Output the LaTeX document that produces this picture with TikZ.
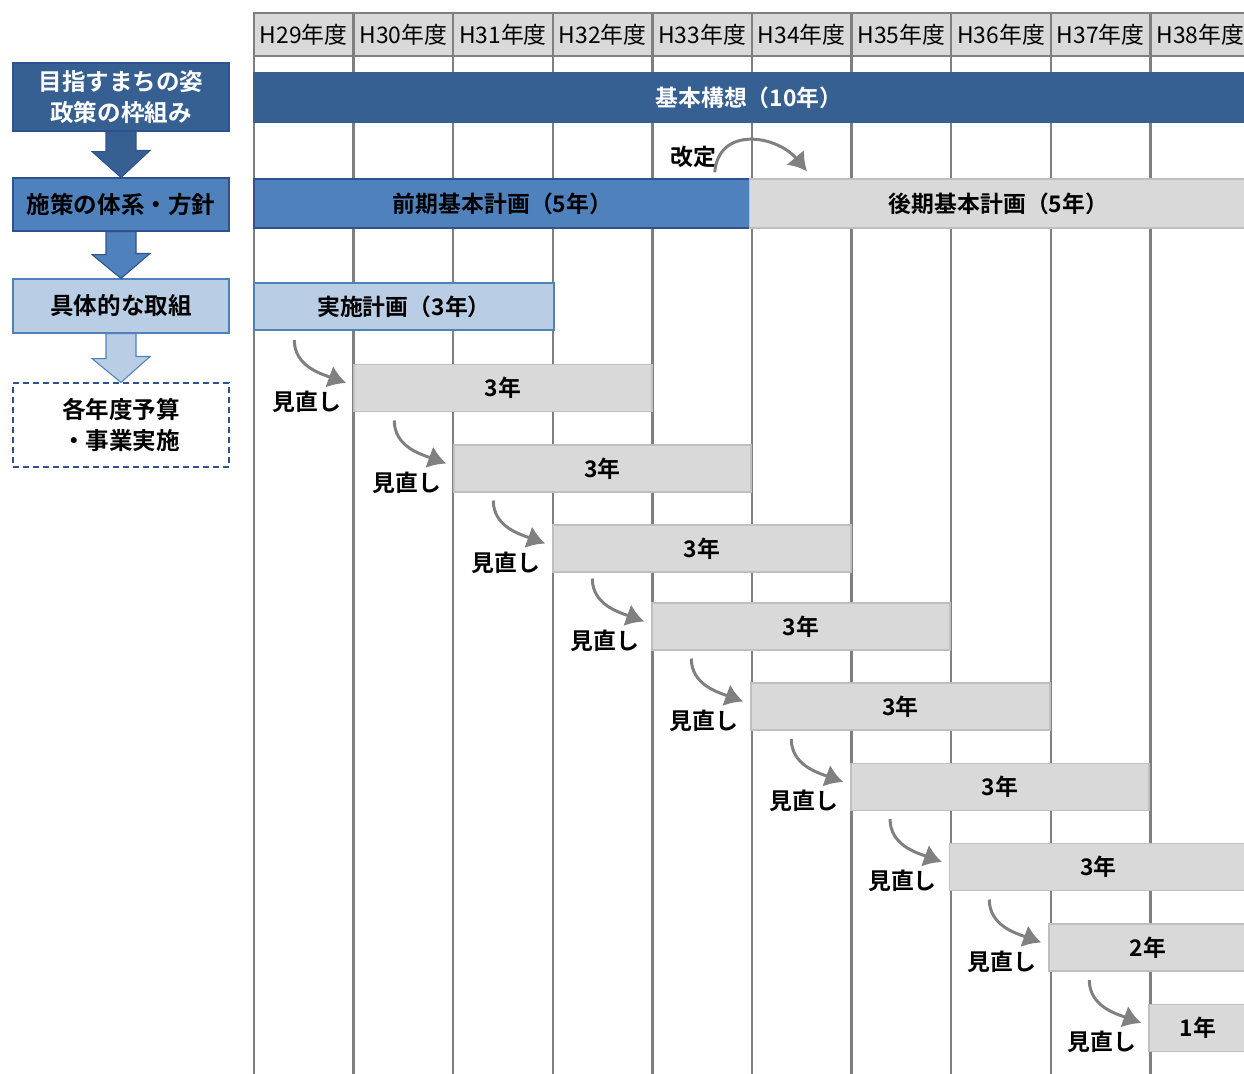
\documentclass[tikz,border=0pt]{standalone}
\usepackage{fontspec}
\setmainfont{Noto Sans CJK JP}[BoldFont={Noto Sans CJK JP Bold}]
\usepackage{tikz}
\usetikzlibrary{positioning}
\usetikzlibrary{arrows.meta}

\definecolor{darkblue}{HTML}{376092}
\definecolor{midblue}{HTML}{4F81BD}
\definecolor{lightblue}{HTML}{B9CDE5}
\definecolor{boxline}{HTML}{2F528F}
\definecolor{cellgrey}{HTML}{D9D9D9}
\definecolor{barline}{HTML}{BFBFBF}
\definecolor{gridgrey}{HTML}{7F7F7F}
\definecolor{arrowgrey}{HTML}{808080}

\begin{document}
\begin{tikzpicture}
    [
    x=0.2mm, y=0.2mm,
    grid/.style={draw=gridgrey, line width=1.4pt},
    cell/.style={draw=gridgrey, fill=cellgrey, line width=1.4pt, inner sep=0pt,
      minimum width=19.92mm, minimum height=8.6mm, font=\fontsize{13}{15}\selectfont},
    bar/.style={draw=barline, fill=cellgrey, line width=0.8pt, inner sep=0pt,
      minimum height=9.4mm, font=\bfseries\fontsize{13}{15}\selectfont},
    box/.style={line width=0.6pt, inner sep=0pt, minimum width=43.2mm, align=center,
      font=\bfseries\fontsize{13.4}{17.6}\selectfont},
    blockarrow/.style={line width=0.6pt},
    review/.style={inner sep=0pt, font=\bfseries\fontsize{13}{15}\selectfont},
    revise/.style={draw=arrowgrey, line width=1.7pt,
      -{Latex[length=3.6mm,width=4.6mm]}}
    ]
    \useasboundingbox (0,0) rectangle (1244,-1073);

    % year columns
    \foreach \x in {254,353.6,453.2,552.8,652.4,752,851.6,951.2,1050.8,1150.4}
      \draw [grid] (\x,-13) -- (\x,-1080);
    \node (h29) at (303.8,-34.5) [cell] {H29年度};
    \node (h30) at (403.4,-34.5) [cell] {H30年度};
    \node (h31) at (503.0,-34.5) [cell] {H31年度};
    \node (h32) at (602.6,-34.5) [cell] {H32年度};
    \node (h33) at (702.2,-34.5) [cell] {H33年度};
    \node (h34) at (801.8,-34.5) [cell] {H34年度};
    \node (h35) at (901.4,-34.5) [cell] {H35年度};
    \node (h36) at (1001.0,-34.5) [cell] {H36年度};
    \node (h37) at (1100.6,-34.5) [cell] {H37年度};
    \node (h38) at (1200.2,-34.5) [cell] {H38年度};

    % left column
    \node (b1) at (121,-97) [box, fill=darkblue, draw=boxline, text=white, minimum height=13.6mm] {目指すまちの姿\\政策の枠組み};
    \node (b2) at (121,-204.5) [box, fill=midblue, draw=boxline, minimum height=10.6mm] {施策の体系・方針};
    \node (b3) at (121,-306) [box, fill=lightblue, draw=midblue, minimum height=10.8mm] {具体的な取組};
    \node (b4) at (121,-425) [box, draw=boxline, dashed, dash pattern=on 1.2mm off 0.8mm, minimum height=16.8mm] {各年度予算\\・事業実施};
    \draw [blockarrow, fill=darkblue, draw=boxline] ([xshift=-3mm]b1.south) -- ++(0,-20) -- ++(-14,0)
      -- (b2.north) -- ++(29,27) -- ++(-14,0) -- ([xshift=3mm]b1.south) -- cycle;
    \draw [blockarrow, fill=midblue, draw=boxline] ([xshift=-3mm]b2.south) -- ++(0,-23) -- ++(-14,0)
      -- (b3.north) -- ++(29,25) -- ++(-14,0) -- ([xshift=3mm]b2.south) -- cycle;
    \draw [blockarrow, fill=lightblue, draw=midblue] ([xshift=-3mm]b3.south) -- ++(0,-25) -- ++(-14,0)
      -- (b4.north) -- ++(29,26) -- ++(-14,0) -- ([xshift=3mm]b3.south) -- cycle;

    % plans
    \node (vision) at (749,-97.5) [bar, fill=darkblue, draw=darkblue, text=white, minimum width=198mm, minimum height=9.8mm] {基本構想（10年）};
    \node (zenki) at (502.5,-203.5) [bar, fill=midblue, draw=boxline, minimum width=99.4mm, minimum height=9.8mm] {前期基本計画（5年）};
    \node (kouki) at (998.5,-203.5) [bar, minimum width=99.5mm, minimum height=9.8mm] {後期基本計画（5年）};
    \node (jisshi) at (404,-306.5) [bar, fill=lightblue, draw=midblue, minimum width=60mm] {実施計画（3年）};

    \node (kt) at (693,-157) [review] {改定};
    \coordinate (k0) at ([xshift=-7.4mm,yshift=1.2mm]zenki.north east);
    \draw [revise, looseness=1.3] (k0) to [out=85,in=130] ([xshift=11.6mm,yshift=1.4mm]kouki.north west);

    % rolling plans
    \node (m1) at (503,-388) [bar, minimum width=59.6mm] {3年};
    \node (m2) at (602.5,-468.5) [bar, minimum width=59.4mm] {3年};
    \node (m3) at (702,-548.5) [bar, minimum width=59.6mm] {3年};
    \node (m4) at (801,-626.5) [bar, minimum width=59.6mm] {3年};
    \node (m5) at (900.5,-706.5) [bar, minimum width=59.8mm] {3年};
    \node (m6) at (1000,-787) [bar, minimum width=59.6mm] {3年};
    \node (m7) at (1098.5,-867) [bar, minimum width=59.5mm] {3年};
    \node (m8) at (1148,-947.5) [bar, minimum width=39.6mm] {2年};
    \node (m9) at (1198,-1028) [bar, minimum width=19.6mm] {1年};

    \node (r1) [review, left=2.4mm of m1.west, yshift=-2.8mm] {見直し};
    \node (r2) [review, left=2.4mm of m2.west, yshift=-2.8mm] {見直し};
    \node (r3) [review, left=2.4mm of m3.west, yshift=-2.8mm] {見直し};
    \node (r4) [review, left=2.4mm of m4.west, yshift=-2.8mm] {見直し};
    \node (r5) [review, left=2.4mm of m5.west, yshift=-2.8mm] {見直し};
    \node (r6) [review, left=2.4mm of m6.west, yshift=-2.8mm] {見直し};
    \node (r7) [review, left=2.4mm of m7.west, yshift=-2.8mm] {見直し};
    \node (r8) [review, left=2.4mm of m8.west, yshift=-2.8mm] {見直し};
    \node (r9) [review, left=2.4mm of m9.west, yshift=-2.8mm] {見直し};

    \coordinate (s1) at ([xshift=-11.8mm,yshift=9.6mm]m1.west);
    \coordinate (s2) at ([xshift=-11.8mm,yshift=9.6mm]m2.west);
    \coordinate (s3) at ([xshift=-11.8mm,yshift=9.6mm]m3.west);
    \coordinate (s4) at ([xshift=-11.8mm,yshift=9.6mm]m4.west);
    \coordinate (s5) at ([xshift=-11.8mm,yshift=9.6mm]m5.west);
    \coordinate (s6) at ([xshift=-11.8mm,yshift=9.6mm]m6.west);
    \coordinate (s7) at ([xshift=-11.8mm,yshift=9.6mm]m7.west);
    \coordinate (s8) at ([xshift=-11.8mm,yshift=9.6mm]m8.west);
    \coordinate (s9) at ([xshift=-11.8mm,yshift=9.6mm]m9.west);
    \draw [revise] (s1) to [out=-90,in=160] ([xshift=-1.4mm,yshift=1mm]m1.west);
    \draw [revise] (s2) to [out=-90,in=160] ([xshift=-1.4mm,yshift=1mm]m2.west);
    \draw [revise] (s3) to [out=-90,in=160] ([xshift=-1.4mm,yshift=1mm]m3.west);
    \draw [revise] (s4) to [out=-90,in=160] ([xshift=-1.4mm,yshift=1mm]m4.west);
    \draw [revise] (s5) to [out=-90,in=160] ([xshift=-1.4mm,yshift=1mm]m5.west);
    \draw [revise] (s6) to [out=-90,in=160] ([xshift=-1.4mm,yshift=1mm]m6.west);
    \draw [revise] (s7) to [out=-90,in=160] ([xshift=-1.4mm,yshift=1mm]m7.west);
    \draw [revise] (s8) to [out=-90,in=160] ([xshift=-1.4mm,yshift=1mm]m8.west);
    \draw [revise] (s9) to [out=-90,in=160] ([xshift=-1.4mm,yshift=1mm]m9.west);
  \end{tikzpicture}
\end{document}
